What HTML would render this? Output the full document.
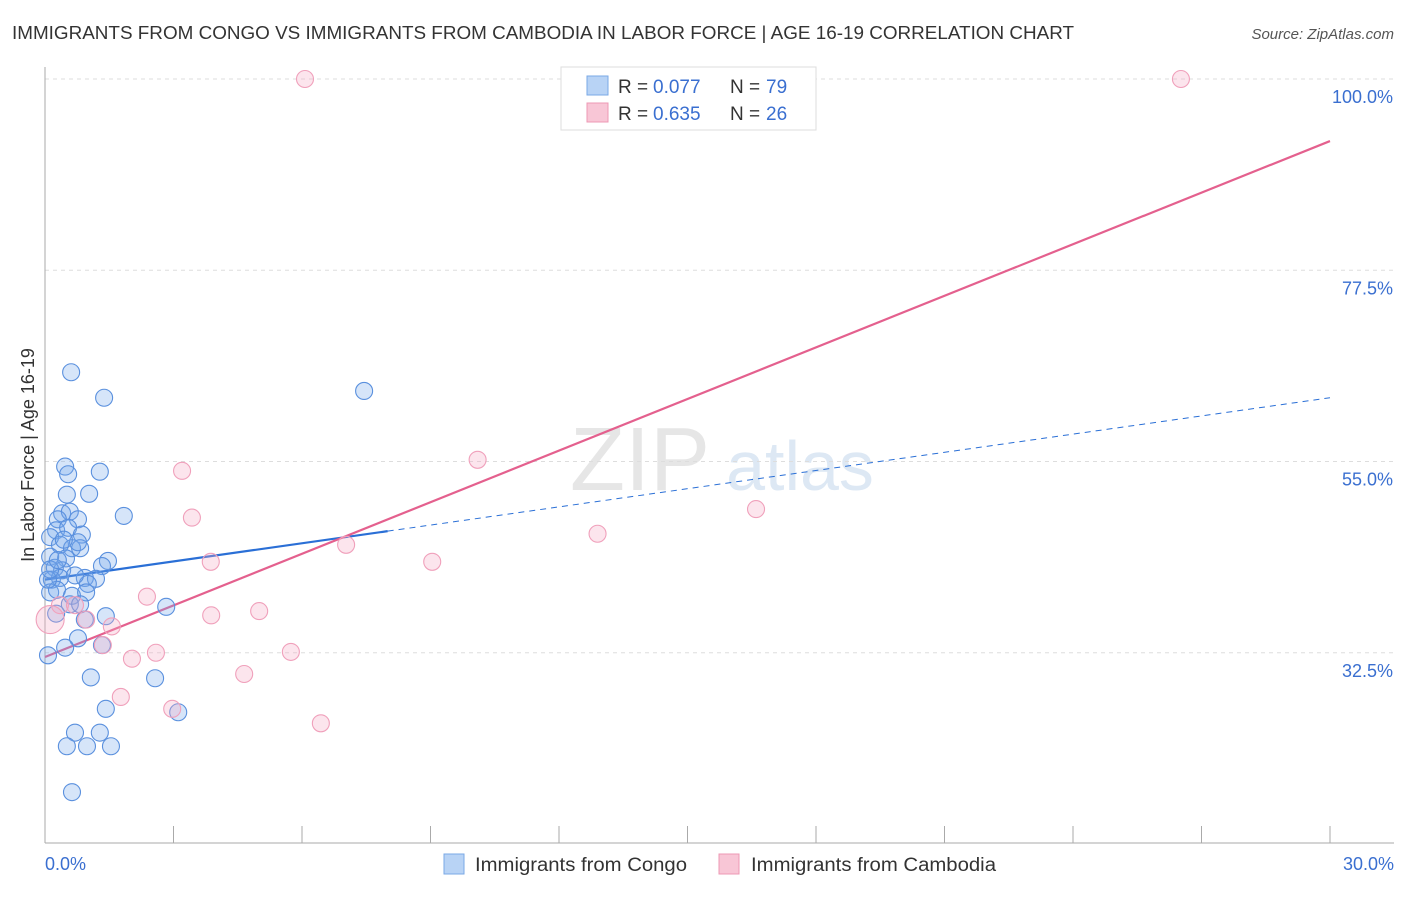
<!DOCTYPE html>
<html><head><meta charset="utf-8">
<style>
body{margin:0;background:#fff;font-family:"Liberation Sans",sans-serif;}
svg text{font-family:"Liberation Sans",sans-serif;}
</style></head>
<body>
<svg id="chart" width="1406" height="892" xmlns="http://www.w3.org/2000/svg">
<text x="12" y="39" font-size="18" fill="#333" textLength="1062" lengthAdjust="spacingAndGlyphs">IMMIGRANTS FROM CONGO VS IMMIGRANTS FROM CAMBODIA IN LABOR FORCE | AGE 16-19 CORRELATION CHART</text>
<text x="1394" y="39" font-size="15" fill="#555" font-style="italic" text-anchor="end">Source: ZipAtlas.com</text>
<text x="640" y="490" font-size="90" fill="#e6e6e6" font-family="Liberation Serif,serif" text-anchor="middle">ZIP</text>
<text x="800" y="490" font-size="70" fill="#dde8f4" text-anchor="middle">atlas</text>
<g id="grid"></g>
<g id="axes"></g>
<g id="lines"></g>
<g id="pts"></g>
<text transform="translate(34,455) rotate(-90)" font-size="18" fill="#333" text-anchor="middle">In Labor Force | Age 16-19</text>
<text x="45" y="870" font-size="18" fill="#3a6fd0">0.0%</text>
<text x="1394" y="870" font-size="18" fill="#3a6fd0" text-anchor="end">30.0%</text>
<g>
<rect x="561" y="67" width="255" height="63" fill="#fff" stroke="#ddd"/>
<rect x="587" y="76" width="21" height="19" fill="#b8d3f5" stroke="#7aa8e6"/>
<rect x="587" y="103" width="21" height="19" fill="#f8c6d6" stroke="#ee98b4"/>
<text y="93" font-size="19" fill="#333"><tspan x="618">R = </tspan><tspan x="653" fill="#3a6fd0">0.077</tspan><tspan x="730">N = </tspan><tspan x="766" fill="#3a6fd0">79</tspan></text>
<text y="120" font-size="19" fill="#333"><tspan x="618">R = </tspan><tspan x="653" fill="#3a6fd0">0.635</tspan><tspan x="730">N = </tspan><tspan x="766" fill="#3a6fd0">26</tspan></text>
</g>
<g>
<rect x="444" y="854" width="20" height="20" fill="#b8d3f5" stroke="#7aa8e6"/>
<text x="475" y="871" font-size="19" fill="#333" textLength="212" lengthAdjust="spacingAndGlyphs">Immigrants from Congo</text>
<rect x="719" y="854" width="20" height="20" fill="#f8c6d6" stroke="#ee98b4"/>
<text x="751" y="871" font-size="19" fill="#333" textLength="245" lengthAdjust="spacingAndGlyphs">Immigrants from Cambodia</text>
</g>
</svg>
<script>
const yTicks=[100,77.5,55,32.5];
const yTickLabels=["100.0%","77.5%","55.0%","32.5%"];
const xTicks=[0,3,6,9,12,15,18,21,24,27,30];
const congoX=[0.61,1.38,7.45,0.47,0.54,1.28,0.51,1.03,1.84,0.40,0.58,0.30,0.77,0.26,0.54,0.86,0.12,0.35,0.63,0.82,0.77,0.49,1.47,1.33,0.12,0.23,0.40,0.16,0.35,0.93,1.19,1.0,0.7,0.12,0.28,0.63,0.96,0.58,0.82,1.42,0.26,0.93,2.83,0.77,1.33,0.47,0.07,1.07,2.57,1.42,3.11,0.70,1.28,0.51,0.98,1.54,0.63,0.07,0.12,0.3,0.44];
const congoY=[65.5,62.5,63.3,54.4,53.5,53.8,51.1,51.2,48.6,48.9,49.1,48.2,48.2,46.9,47.2,46.4,46.1,45.2,44.8,44.8,45.5,43.6,43.3,42.7,43.8,42.5,42.2,41.1,41.3,41.3,41.2,40.6,41.6,39.6,39.9,39.2,39.6,38.2,38.2,36.8,37.1,36.4,37.9,34.2,33.4,33.1,32.2,29.6,29.5,25.9,25.5,23.1,23.1,21.5,21.5,21.5,16.1,41.1,42.3,43.4,45.8];
const cambX=[6.07,26.52,3.2,10.1,3.43,16.6,12.9,7.03,3.87,9.04,2.38,5.0,3.88,1.56,0.96,0.35,0.12,2.59,2.03,5.74,4.65,1.77,2.97,6.44,1.35,0.7];
const cambY=[100,100,53.9,55.2,48.4,49.4,46.5,45.2,43.2,43.2,39.1,37.4,36.9,35.6,36.4,38.1,36.4,32.5,31.8,32.6,30.0,27.3,25.9,24.2,33.4,38.1];
const congoTrend=[41.1,62.5];
const congoSolidEnd=8.0;
const cambTrend=[32.0,92.7];
const NS="http://www.w3.org/2000/svg";
const X=v=>45+v*(1285/30);
const Y=v=>79+(100-v)*8.5;
function mk(tag,attrs,parent){const e=document.createElementNS(NS,tag);for(const k in attrs)e.setAttribute(k,attrs[k]);document.getElementById(parent).appendChild(e);return e;}
yTicks.forEach((t,i)=>{
 const l=mk('line',{x1:45,x2:1394,y1:Y(t),y2:Y(t),stroke:'#ddd','stroke-dasharray':'4,4'},'grid');
 
 
 const tx=mk('text',{x:1393,y:Y(t)+24,'font-size':18,fill:'#3a6fd0','text-anchor':'end'},'grid');
 tx.textContent=yTickLabels[i];
 
 
});
const ya=mk('line',{x1:45,x2:45,y1:67,y2:843,stroke:'#aaa'},'axes');


const xa=mk('line',{x1:45,x2:1394,y1:843,y2:843,stroke:'#aaa'},'axes');


xTicks.forEach(t=>{
 const l=mk('line',{x1:X(t),x2:X(t),y1:826,y2:843,stroke:'#aaa'},'axes');
 
 
});
const cy=x=>congoTrend[0]+(congoTrend[1]-congoTrend[0])*x/30;
let l1=mk('line',{x1:X(0),y1:Y(cy(0)),x2:X(congoSolidEnd),y2:Y(cy(congoSolidEnd)),stroke:'#2a6fd6','stroke-width':2.2},'lines');


let l2=mk('line',{x1:X(congoSolidEnd),y1:Y(cy(congoSolidEnd)),x2:X(30),y2:Y(cy(30)),stroke:'#2a6fd6','stroke-width':1,'stroke-dasharray':'6,5'},'lines');


let l3=mk('line',{x1:X(0),y1:Y(cambTrend[0]),x2:X(30),y2:Y(cambTrend[1]),stroke:'#e4608e','stroke-width':2.2},'lines');


congoX.forEach((x,i)=>{
 const c=mk('circle',{cx:X(x),cy:Y(congoY[i]),r:8.5,fill:'rgba(120,170,235,0.3)',stroke:'#5a90de','stroke-width':1.1},'pts');
 
 
});
cambX.forEach((x,i)=>{
 const c=mk('circle',{cx:X(x),cy:Y(cambY[i]),r:(i==16?14:8.5),fill:'rgba(245,170,195,0.3)',stroke:'#f0a0bb','stroke-width':1.1},'pts');
 
 
});
</script>
</body></html>
